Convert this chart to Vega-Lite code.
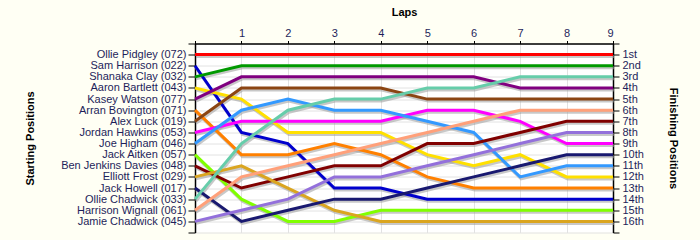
{
"$schema": "https://vega.github.io/schema/vega-lite/v6.json",
"width": 418, "height": 189,
"autosize": {"type": "none"},
"padding": {"left": 195, "top": 43.5, "right": 87, "bottom": 7.5},
"background": "#FFFFF4",
"view": {"fill": "#FFFFFF", "stroke": null},
"config": {"font": "Liberation Sans", "axis": {"labelFontSize": 11, "labelColor": "#1E1E5A", "titleFontSize": 11, "titleFontWeight": "bold", "titleColor": "#000000", "domainColor": "#000000", "domainWidth": 1.5, "tickColor": "#000000", "tickWidth": 1, "gridColor": "#E2E2E2", "gridWidth": 1, "labelFont": "Liberation Sans", "titleFont": "Liberation Sans"}},
"data": {"values": [
{"driver":"Ollie Pidgley (072)","lap":0,"pos":1},{"driver":"Ollie Pidgley (072)","lap":1,"pos":1},{"driver":"Ollie Pidgley (072)","lap":2,"pos":1},{"driver":"Ollie Pidgley (072)","lap":3,"pos":1},{"driver":"Ollie Pidgley (072)","lap":4,"pos":1},{"driver":"Ollie Pidgley (072)","lap":5,"pos":1},{"driver":"Ollie Pidgley (072)","lap":6,"pos":1},{"driver":"Ollie Pidgley (072)","lap":7,"pos":1},{"driver":"Ollie Pidgley (072)","lap":8,"pos":1},{"driver":"Ollie Pidgley (072)","lap":9,"pos":1},
{"driver":"Sam Harrison (022)","lap":0,"pos":2},{"driver":"Sam Harrison (022)","lap":1,"pos":8},{"driver":"Sam Harrison (022)","lap":2,"pos":9},{"driver":"Sam Harrison (022)","lap":3,"pos":13},{"driver":"Sam Harrison (022)","lap":4,"pos":13},{"driver":"Sam Harrison (022)","lap":5,"pos":14},{"driver":"Sam Harrison (022)","lap":6,"pos":14},{"driver":"Sam Harrison (022)","lap":7,"pos":14},{"driver":"Sam Harrison (022)","lap":8,"pos":14},{"driver":"Sam Harrison (022)","lap":9,"pos":14},
{"driver":"Shanaka Clay (032)","lap":0,"pos":3},{"driver":"Shanaka Clay (032)","lap":1,"pos":2},{"driver":"Shanaka Clay (032)","lap":2,"pos":2},{"driver":"Shanaka Clay (032)","lap":3,"pos":2},{"driver":"Shanaka Clay (032)","lap":4,"pos":2},{"driver":"Shanaka Clay (032)","lap":5,"pos":2},{"driver":"Shanaka Clay (032)","lap":6,"pos":2},{"driver":"Shanaka Clay (032)","lap":7,"pos":2},{"driver":"Shanaka Clay (032)","lap":8,"pos":2},{"driver":"Shanaka Clay (032)","lap":9,"pos":2},
{"driver":"Aaron Bartlett (043)","lap":0,"pos":4},{"driver":"Aaron Bartlett (043)","lap":1,"pos":5},{"driver":"Aaron Bartlett (043)","lap":2,"pos":8},{"driver":"Aaron Bartlett (043)","lap":3,"pos":8},{"driver":"Aaron Bartlett (043)","lap":4,"pos":8},{"driver":"Aaron Bartlett (043)","lap":5,"pos":10},{"driver":"Aaron Bartlett (043)","lap":6,"pos":11},{"driver":"Aaron Bartlett (043)","lap":7,"pos":10},{"driver":"Aaron Bartlett (043)","lap":8,"pos":12},{"driver":"Aaron Bartlett (043)","lap":9,"pos":12},
{"driver":"Kasey Watson (077)","lap":0,"pos":5},{"driver":"Kasey Watson (077)","lap":1,"pos":3},{"driver":"Kasey Watson (077)","lap":2,"pos":3},{"driver":"Kasey Watson (077)","lap":3,"pos":3},{"driver":"Kasey Watson (077)","lap":4,"pos":3},{"driver":"Kasey Watson (077)","lap":5,"pos":3},{"driver":"Kasey Watson (077)","lap":6,"pos":3},{"driver":"Kasey Watson (077)","lap":7,"pos":4},{"driver":"Kasey Watson (077)","lap":8,"pos":4},{"driver":"Kasey Watson (077)","lap":9,"pos":4},
{"driver":"Arran Bovington (071)","lap":0,"pos":6},{"driver":"Arran Bovington (071)","lap":1,"pos":10},{"driver":"Arran Bovington (071)","lap":2,"pos":10},{"driver":"Arran Bovington (071)","lap":3,"pos":9},{"driver":"Arran Bovington (071)","lap":4,"pos":10},{"driver":"Arran Bovington (071)","lap":5,"pos":12},{"driver":"Arran Bovington (071)","lap":6,"pos":13},{"driver":"Arran Bovington (071)","lap":7,"pos":13},{"driver":"Arran Bovington (071)","lap":8,"pos":13},{"driver":"Arran Bovington (071)","lap":9,"pos":13},
{"driver":"Alex Luck (019)","lap":0,"pos":7},{"driver":"Alex Luck (019)","lap":1,"pos":4},{"driver":"Alex Luck (019)","lap":2,"pos":4},{"driver":"Alex Luck (019)","lap":3,"pos":4},{"driver":"Alex Luck (019)","lap":4,"pos":4},{"driver":"Alex Luck (019)","lap":5,"pos":5},{"driver":"Alex Luck (019)","lap":6,"pos":5},{"driver":"Alex Luck (019)","lap":7,"pos":5},{"driver":"Alex Luck (019)","lap":8,"pos":5},{"driver":"Alex Luck (019)","lap":9,"pos":5},
{"driver":"Jordan Hawkins (053)","lap":0,"pos":8},{"driver":"Jordan Hawkins (053)","lap":1,"pos":7},{"driver":"Jordan Hawkins (053)","lap":2,"pos":7},{"driver":"Jordan Hawkins (053)","lap":3,"pos":7},{"driver":"Jordan Hawkins (053)","lap":4,"pos":7},{"driver":"Jordan Hawkins (053)","lap":5,"pos":6},{"driver":"Jordan Hawkins (053)","lap":6,"pos":6},{"driver":"Jordan Hawkins (053)","lap":7,"pos":7},{"driver":"Jordan Hawkins (053)","lap":8,"pos":9},{"driver":"Jordan Hawkins (053)","lap":9,"pos":9},
{"driver":"Joe Higham (046)","lap":0,"pos":9},{"driver":"Joe Higham (046)","lap":1,"pos":6},{"driver":"Joe Higham (046)","lap":2,"pos":5},{"driver":"Joe Higham (046)","lap":3,"pos":6},{"driver":"Joe Higham (046)","lap":4,"pos":6},{"driver":"Joe Higham (046)","lap":5,"pos":7},{"driver":"Joe Higham (046)","lap":6,"pos":8},{"driver":"Joe Higham (046)","lap":7,"pos":12},{"driver":"Joe Higham (046)","lap":8,"pos":11},{"driver":"Joe Higham (046)","lap":9,"pos":11},
{"driver":"Jack Aitken (057)","lap":0,"pos":10},{"driver":"Jack Aitken (057)","lap":1,"pos":14},{"driver":"Jack Aitken (057)","lap":2,"pos":16},{"driver":"Jack Aitken (057)","lap":3,"pos":16},{"driver":"Jack Aitken (057)","lap":4,"pos":15},{"driver":"Jack Aitken (057)","lap":5,"pos":15},{"driver":"Jack Aitken (057)","lap":6,"pos":15},{"driver":"Jack Aitken (057)","lap":7,"pos":15},{"driver":"Jack Aitken (057)","lap":8,"pos":15},{"driver":"Jack Aitken (057)","lap":9,"pos":15},
{"driver":"Ben Jenkins Davies (048)","lap":0,"pos":11},{"driver":"Ben Jenkins Davies (048)","lap":1,"pos":13},{"driver":"Ben Jenkins Davies (048)","lap":2,"pos":12},{"driver":"Ben Jenkins Davies (048)","lap":3,"pos":11},{"driver":"Ben Jenkins Davies (048)","lap":4,"pos":11},{"driver":"Ben Jenkins Davies (048)","lap":5,"pos":9},{"driver":"Ben Jenkins Davies (048)","lap":6,"pos":9},{"driver":"Ben Jenkins Davies (048)","lap":7,"pos":8},{"driver":"Ben Jenkins Davies (048)","lap":8,"pos":7},{"driver":"Ben Jenkins Davies (048)","lap":9,"pos":7},
{"driver":"Elliott Frost (029)","lap":0,"pos":12},{"driver":"Elliott Frost (029)","lap":1,"pos":11},{"driver":"Elliott Frost (029)","lap":2,"pos":13},{"driver":"Elliott Frost (029)","lap":3,"pos":15},{"driver":"Elliott Frost (029)","lap":4,"pos":16},{"driver":"Elliott Frost (029)","lap":5,"pos":16},{"driver":"Elliott Frost (029)","lap":6,"pos":16},{"driver":"Elliott Frost (029)","lap":7,"pos":16},{"driver":"Elliott Frost (029)","lap":8,"pos":16},{"driver":"Elliott Frost (029)","lap":9,"pos":16},
{"driver":"Jack Howell (017)","lap":0,"pos":13},{"driver":"Jack Howell (017)","lap":1,"pos":16},{"driver":"Jack Howell (017)","lap":2,"pos":15},{"driver":"Jack Howell (017)","lap":3,"pos":14},{"driver":"Jack Howell (017)","lap":4,"pos":14},{"driver":"Jack Howell (017)","lap":5,"pos":13},{"driver":"Jack Howell (017)","lap":6,"pos":12},{"driver":"Jack Howell (017)","lap":7,"pos":11},{"driver":"Jack Howell (017)","lap":8,"pos":10},{"driver":"Jack Howell (017)","lap":9,"pos":10},
{"driver":"Ollie Chadwick (033)","lap":0,"pos":14},{"driver":"Ollie Chadwick (033)","lap":1,"pos":9},{"driver":"Ollie Chadwick (033)","lap":2,"pos":6},{"driver":"Ollie Chadwick (033)","lap":3,"pos":5},{"driver":"Ollie Chadwick (033)","lap":4,"pos":5},{"driver":"Ollie Chadwick (033)","lap":5,"pos":4},{"driver":"Ollie Chadwick (033)","lap":6,"pos":4},{"driver":"Ollie Chadwick (033)","lap":7,"pos":3},{"driver":"Ollie Chadwick (033)","lap":8,"pos":3},{"driver":"Ollie Chadwick (033)","lap":9,"pos":3},
{"driver":"Harrison Wignall (061)","lap":0,"pos":15},{"driver":"Harrison Wignall (061)","lap":1,"pos":12},{"driver":"Harrison Wignall (061)","lap":2,"pos":11},{"driver":"Harrison Wignall (061)","lap":3,"pos":10},{"driver":"Harrison Wignall (061)","lap":4,"pos":9},{"driver":"Harrison Wignall (061)","lap":5,"pos":8},{"driver":"Harrison Wignall (061)","lap":6,"pos":7},{"driver":"Harrison Wignall (061)","lap":7,"pos":6},{"driver":"Harrison Wignall (061)","lap":8,"pos":6},{"driver":"Harrison Wignall (061)","lap":9,"pos":6},
{"driver":"Jamie Chadwick (045)","lap":0,"pos":16},{"driver":"Jamie Chadwick (045)","lap":1,"pos":15},{"driver":"Jamie Chadwick (045)","lap":2,"pos":14},{"driver":"Jamie Chadwick (045)","lap":3,"pos":12},{"driver":"Jamie Chadwick (045)","lap":4,"pos":12},{"driver":"Jamie Chadwick (045)","lap":5,"pos":11},{"driver":"Jamie Chadwick (045)","lap":6,"pos":10},{"driver":"Jamie Chadwick (045)","lap":7,"pos":9},{"driver":"Jamie Chadwick (045)","lap":8,"pos":8},{"driver":"Jamie Chadwick (045)","lap":9,"pos":8}
]},
"encoding": {
  "x": {"field": "lap", "type": "quantitative", "scale": {"domain": [0, 9], "nice": false, "zero": false},
        "axis": {"orient": "top", "values": [0,1,2,3,4,5,6,7,8,9], "labelExpr": "datum.value == 0 ? '' : datum.label", "title": "Laps", "titleY": -31.5, "titleBaseline": "middle", "tickSize": 3, "labelPadding": 2, "grid": true, "labelAngle": 0}}
},
"layer": [
  {
    "mark": {"type": "line", "strokeWidth": 3, "color": "#9A9A9A", "opacity": 0.55, "xOffset": 1, "yOffset": 2, "clip": false},
    "encoding": {
      "y": {"field": "pos", "type": "quantitative", "scale": {"domain": [0, 17], "reverse": true, "nice": false, "zero": false},
            "axis": {"orient": "left", "values": [0,1,2,3,4,5,6,7,8,9,10,11,12,13,14,15,16,17], "grid": true, "tickSize": 7, "labelPadding": 2, "title": "Starting Positions", "titleX": -165, "titleBaseline": "middle", "titleAngle": -90,
                     "labelExpr": "['', 'Ollie Pidgley (072)', 'Sam Harrison (022)', 'Shanaka Clay (032)', 'Aaron Bartlett (043)', 'Kasey Watson (077)', 'Arran Bovington (071)', 'Alex Luck (019)', 'Jordan Hawkins (053)', 'Joe Higham (046)', 'Jack Aitken (057)', 'Ben Jenkins Davies (048)', 'Elliott Frost (029)', 'Jack Howell (017)', 'Ollie Chadwick (033)', 'Harrison Wignall (061)', 'Jamie Chadwick (045)', ''][datum.value]"}},
      "detail": {"field": "driver"}
    }
  },
  {
    "mark": {"type": "line", "strokeWidth": 3, "clip": false},
    "encoding": {
      "y": {"field": "pos", "type": "quantitative", "scale": {"domain": [0, 17], "reverse": true, "nice": false, "zero": false},
            "axis": {"orient": "right", "values": [0,1,2,3,4,5,6,7,8,9,10,11,12,13,14,15,16,17], "grid": false, "tickSize": 6, "labelPadding": 3, "title": "Finishing Positions", "titleX": 59, "titleBaseline": "middle", "titleAngle": 90,
                     "labelExpr": "datum.value < 1 || datum.value > 16 ? '' : datum.value + (datum.value == 1 ? 'st' : datum.value == 2 ? 'nd' : datum.value == 3 ? 'rd' : 'th')"}},
      "color": {"field": "driver", "type": "nominal", "legend": null,
                "scale": {"domain": ["Ollie Pidgley (072)", "Sam Harrison (022)", "Shanaka Clay (032)", "Aaron Bartlett (043)", "Kasey Watson (077)", "Arran Bovington (071)", "Alex Luck (019)", "Jordan Hawkins (053)", "Joe Higham (046)", "Jack Aitken (057)", "Ben Jenkins Davies (048)", "Elliott Frost (029)", "Jack Howell (017)", "Ollie Chadwick (033)", "Harrison Wignall (061)", "Jamie Chadwick (045)"],
                          "range": ["#FF0000", "#0000CD", "#009900", "#FFE000", "#800080", "#FF8000", "#8B4513", "#FF00FF", "#3399FF", "#80FF00", "#800000", "#DAA520", "#191970", "#66CDAA", "#FFA07A", "#9370DB"]}}
    }
  }
],
"resolve": {"scale": {"y": "independent"}}
}
